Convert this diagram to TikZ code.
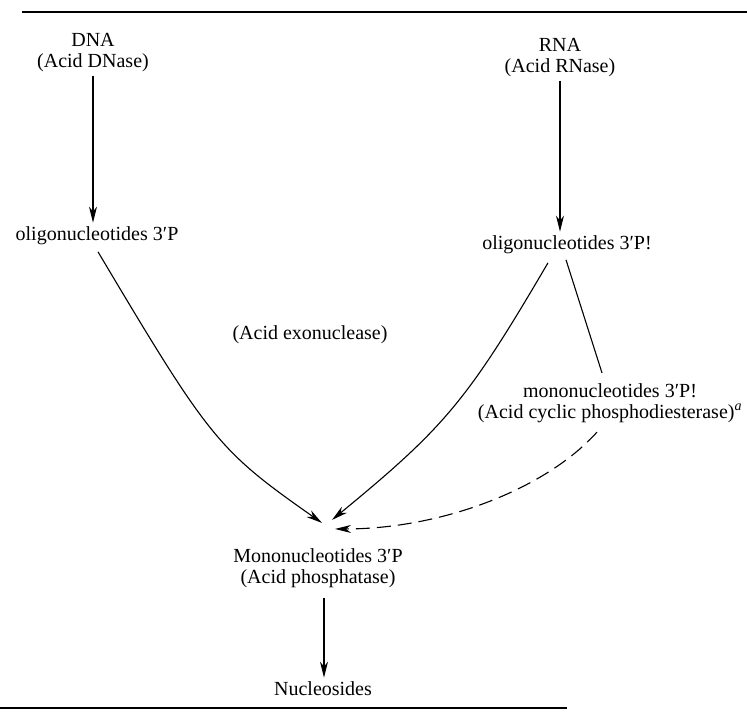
\documentclass[tikz,border=0pt]{standalone}
\usepackage{fontspec}
\setmainfont{Liberation Serif}
\usetikzlibrary{arrows.meta,calc}
\begin{document}
\begin{tikzpicture}[x=1pt,y=-1pt,
  lbl/.style={font=\fontsize{20}{21}\selectfont, align=center, inner sep=3.3pt},
  conn/.style={line width=1.1pt},
  arr/.style={conn, -{Stealth[length=16pt,width=8pt,inset=5pt]}},
  dsh/.style={arr, dash pattern=on 14pt off 7pt},
  rulestyle/.style={line width=1.6pt}]
\useasboundingbox (0,0) rectangle (747,716);
% rules
\draw[rulestyle] (22,12) -- (747,12);
\draw[rulestyle] (0,708) -- (567,708);
% nodes
\node[lbl] (dna) at (93,53) {DNA\\(Acid DNase)};
\node[lbl] (rna) at (560,58) {RNA\\(Acid RNase)};
\node[lbl, anchor=base] (oligoL) at (97,240) {oligonucleotides 3′P};
\node[lbl, anchor=base] (oligoR) at (567,249) {oligonucleotides 3′P!};
\node[lbl, anchor=base] (exo) at (310,339) {(Acid exonuclease)};
\node[lbl] (monoR) at (610,403) {mononucleotides 3′P!\\(Acid cyclic phosphodiesterase)\textsuperscript{\itshape a}};
\node[lbl] (mono) at (318,568) {Mononucleotides 3′P\\(Acid phosphatase)};
\node[lbl, anchor=base] (nuc) at (323,695) {Nucleosides};
% connector end points on the nodes
\coordinate (monoOut) at ($(mono.south)+(6,7)$);
% connectors
\draw[arr] (dna.south) -- (dna.south |- oligoL.north);
\draw[arr] (rna.south) -- (rna.south |- oligoR.north);
\draw[arr] ($(oligoL.south)+(1,4)$) .. controls (210,440) and (218,450) .. ($(mono.north)+(4,-22)$);
\draw[arr] ($(oligoR.south)+(-19,6)$) .. controls (467,401) and (445,427) .. ($(mono.north)+(14,-25)$);
\draw[conn] ($(oligoR.south)+(-1,3)$) -- ($(monoR.north)+(-8,-7)$);
\draw[dsh] ($(monoR.south)+(-13,6)$) .. controls (545,490) and (440,529) .. ($(mono.north)+(17,-16)$);
\draw[arr] (monoOut) -- (monoOut |- nuc.north);
\end{tikzpicture}
\end{document}
